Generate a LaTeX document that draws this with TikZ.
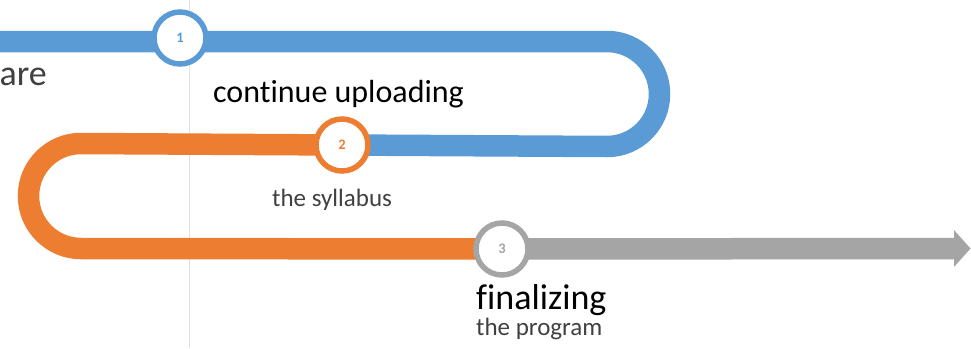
\documentclass[tikz,border=0pt]{standalone}
\usepackage{fontspec}
\setmainfont{Carlito}[Ligatures=NoCommon]
\definecolor{cblue}{HTML}{5B9BD5}
\definecolor{corange}{HTML}{ED7D31}
\definecolor{cgray}{HTML}{A5A5A5}
\definecolor{ctext}{HTML}{404040}
\definecolor{cline}{HTML}{DCE3EA}
\tikzset{
  band/.style={line width=21.5pt},
  stepcircle/.style={circle, fill=white, line width=5.5pt, minimum size=52pt, inner sep=0pt, font=\fontsize{14.5}{14.5}\selectfont\bfseries},
  lbl/.style={inner sep=0pt, anchor=base west},
}
\begin{document}
\begin{tikzpicture}[x=1pt,y=-1pt]
\useasboundingbox (0,0) rectangle (971,348);
\draw[cline, line width=1pt] (189,0) -- (189,348);
% step markers (positions)
\coordinate (s0) at (-10,41.5);
\coordinate (b1) at (607,41.5);
\coordinate (o1) at (81,143.5);
\coordinate (g1) at (954,248.5);
\node[stepcircle] (c1) at (180,38) {};
\node[stepcircle] (c2) at (342,145) {};
\node[stepcircle] (c3) at (502,249) {};
% bands
\draw[band, cblue] (s0) -- (b1) arc(-90:90:52.5) -- (c2.center);
\draw[band, corange] (c2.center) -- (o1) arc(-90:-270:52.5) -- (c3.center);
\draw[band, cgray] (c3.center) -- (g1);
\fill[cgray] ([yshift=-18.5pt]g1) coordinate (h1) -- ([xshift=16.5pt]g1) coordinate (h2) -- ([yshift=18.5pt]g1) coordinate (h3) -- cycle;
% circles on top
\node[stepcircle, draw=cblue, text=cblue] at (c1) {1};
\node[stepcircle, draw=corange, text=corange] at (c2) {2};
\node[stepcircle, draw=cgray, text=cgray] at (c3) {3};
% texts
\node[inner sep=0pt, anchor=base east, text=ctext, font=\fontsize{36}{36}\selectfont] (t0) at (47,85) {are};
\node[lbl, font=\fontsize{32}{32}\selectfont] (t1) at (213,102) {continue uploading};
\node[lbl, text=ctext, font=\fontsize{25}{25}\selectfont] (t2) at (272,206.5) {the syllabus};
\node[lbl, font=\fontsize{36}{36}\selectfont] (t3) at (476,309) {finalizing};
\node[lbl, text=ctext, font=\fontsize{25}{25}\selectfont] (t4) at (476,335) {the program};
\end{tikzpicture}
\end{document}
